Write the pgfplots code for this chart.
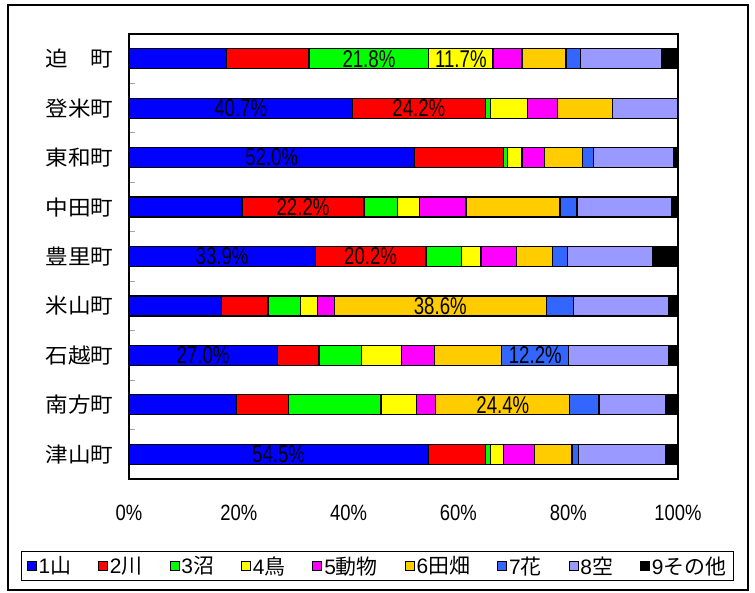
\documentclass[border=0pt]{standalone}
\usepackage{fontspec}
\setmainfont{Liberation Sans}
\newfontfamily\jp{Noto Sans CJK JP}
\usepackage{graphicx}
\usepackage{pgfplots}
\usepackage{pgfplotstable}
\pgfplotsset{compat=1.18}
\newcommand\stretchA[1]{\scalebox{1}[1.3]{#1}}
\newcommand\stretchB[1]{\scalebox{1}[1.2]{#1}}
\newcommand\cat[1]{{\jp\scalebox{1.08}[1]{#1}}}

\definecolor{c1}{HTML}{0000FF}
\definecolor{c2}{HTML}{FF0000}
\definecolor{c3}{HTML}{00FF00}
\definecolor{c4}{HTML}{FFFF00}
\definecolor{c5}{HTML}{FF00FF}
\definecolor{c6}{HTML}{FFCC00}
\definecolor{c7}{HTML}{3366FF}
\definecolor{c8}{HTML}{9999FF}
\definecolor{c9}{HTML}{000000}
\tikzset{lbl/.style={font=\fontsize{18.7}{20}\selectfont, inner sep=0pt}}
\pgfplotsset{sq legend/.style={legend image code/.code={%
  \draw[##1, line width=0.9bp] (0bp,-4.5bp) rectangle (9bp,4.5bp);}}}

% rows top to bottom
\pgfplotstableread{
y  a     b     c     d     e    f     g     h     i
0  17.8  15.0  21.8  11.7  5.3  8.0   2.7   14.7  3.0
1  40.7  24.2  1.0   6.7   5.4  10.0  0.0   12.0  0.0
2  52.0  16.2  0.7   2.7   4.1  6.9   2.0   14.6  0.8
3  20.6  22.2  6.1   4.0   8.5  17.1  3.1   17.2  1.2
4  33.9  20.2  6.4   3.6   6.5  6.5   2.7   15.6  4.6
5  16.8  8.5   6.0   3.0   3.1  38.6  4.9   17.3  1.8
6  27.0  7.6   7.8   7.2   6.1  12.2  12.2  18.1  1.8
7  19.6  9.5   16.8  6.5   3.5  24.4  5.3   12.2  2.2
8  54.5  10.4  1.0   2.3   5.7  6.8   1.2   15.9  2.2
}\shares

\begin{document}
\begin{tikzpicture}[x=1bp,y=1bp]
\path[use as bounding box] (0,0) rectangle (755,593);
\draw[line width=1.8bp] (8,3) rectangle (748,588);
\begin{axis}[
  at={(129bp,114bp)}, anchor=south west,
  scale only axis, width=549bp, height=445bp,
  xbar stacked, bar width=20bp,
  xmin=0, xmax=100, ymin=-0.5, ymax=8.5, y dir=reverse,
  ytick={0,...,8},
  yticklabels={\cat{迫　町},\cat{登米町},\cat{東和町},\cat{中田町},\cat{豊里町},\cat{米山町},\cat{石越町},\cat{南方町},\cat{津山町}},
  minor ytick={0.5,1.5,...,7.5},
  major tick length=0pt, minor tick length=6bp, tick align=inside,
  ytick pos=left, xtick pos=bottom,
  minor tick style={gray!70, line width=1.2bp},
  xtick={0,20,...,100},
  xticklabels={\stretchB{0\%},\stretchB{20\%},\stretchB{40\%},\stretchB{60\%},\stretchB{80\%},\stretchB{100\%}},
  xticklabel style={font=\fontsize{18.5}{20}\selectfont, yshift=-23bp},
  yticklabel style={font=\fontsize{21}{23}\selectfont, xshift=-12bp},
  axis line style={line width=1.5bp},
  every axis plot/.append style={draw=black, line width=1.2bp},
  legend style={at={(axis description cs:0.4526,-0.1955)}, anchor=center,
    legend columns=9, draw=black, line width=0.8bp,
    font=\fontsize{21}{23}\selectfont, inner xsep=5bp, inner ysep=3bp,
    /tikz/every even column/.append style={column sep=25bp}},
  sq legend,
]
\addplot[fill=c1] table[x=a,y=y]{\shares};
\addplot[fill=c2] table[x=b,y=y]{\shares};
\addplot[fill=c3] table[x=c,y=y]{\shares};
\addplot[fill=c4] table[x=d,y=y]{\shares};
\addplot[fill=c5] table[x=e,y=y]{\shares};
\addplot[fill=c6] table[x=f,y=y]{\shares};
\addplot[fill=c7] table[x=g,y=y]{\shares};
\addplot[fill=c8] table[x=h,y=y]{\shares};
\addplot[fill=c9] table[x=i,y=y]{\shares};
\legend{{1\jp 山},{2\jp 川},{3\jp 沼},{4\jp 鳥},{5\jp 動物},{6\jp 田畑},{7\jp 花},{8\jp 空},{9\jp その他}}

\coordinate (l1) at (axis cs:43.7,0);
\coordinate (l2) at (axis cs:60.45,0);
\coordinate (l3) at (axis cs:20.35,1);
\coordinate (l4) at (axis cs:52.8,1);
\coordinate (l5) at (axis cs:26.0,2);
\coordinate (l6) at (axis cs:31.7,3);
\coordinate (l7) at (axis cs:16.95,4);
\coordinate (l8) at (axis cs:44.0,4);
\coordinate (l9) at (axis cs:56.7,5);
\coordinate (l10) at (axis cs:13.5,6);
\coordinate (l11) at (axis cs:74.0,6);
\coordinate (l12) at (axis cs:68.1,7);
\coordinate (l13) at (axis cs:27.25,8);
\end{axis}
\node[lbl] at (l1) {\stretchA{21.8\%}};
\node[lbl] at (l2) {\stretchA{11.7\%}};
\node[lbl] at (l3) {\stretchA{40.7\%}};
\node[lbl] at (l4) {\stretchA{24.2\%}};
\node[lbl] at (l5) {\stretchA{52.0\%}};
\node[lbl] at (l6) {\stretchA{22.2\%}};
\node[lbl] at (l7) {\stretchA{33.9\%}};
\node[lbl] at (l8) {\stretchA{20.2\%}};
\node[lbl] at (l9) {\stretchA{38.6\%}};
\node[lbl] at (l10) {\stretchA{27.0\%}};
\node[lbl] at (l11) {\stretchA{12.2\%}};
\node[lbl] at (l12) {\stretchA{24.4\%}};
\node[lbl] at (l13) {\stretchA{54.5\%}};
\end{tikzpicture}
\end{document}
